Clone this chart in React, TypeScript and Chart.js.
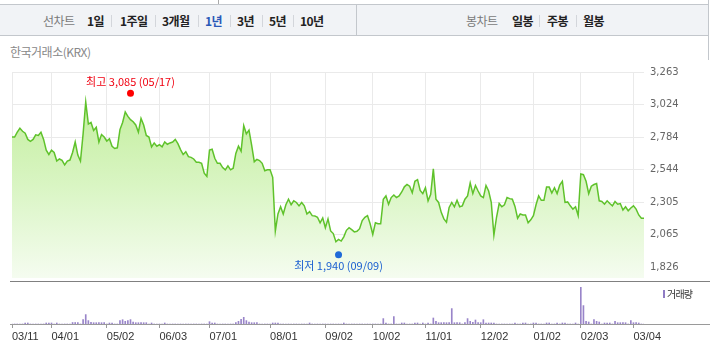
import React, { useEffect, useRef } from 'react';
import { Chart, registerables } from 'chart.js';

Chart.register(...registerables);

// ---- data ----
const closes = [
  2784, 2784, 2820, 2849, 2827, 2813, 2767, 2753, 2767, 2801,
  2796, 2820, 2767, 2688, 2656, 2688, 2671, 2608, 2623, 2613,
  2579, 2608, 2615, 2671, 2748, 2652, 2608, 2808, 3042, 2880,
  2892, 2832, 2856, 2748, 2803, 2784, 2755, 2772, 2717, 2700,
  2705, 2839, 2892, 2969, 2936, 2912, 2897, 2873, 2820, 2921,
  2873, 2796, 2784, 2712, 2741, 2717, 2729, 2712, 2748, 2731,
  2741, 2748, 2767, 2736, 2692, 2656, 2676, 2640, 2635, 2623,
  2599, 2599, 2591, 2519, 2495, 2688, 2695, 2628, 2591, 2591,
  2560, 2543, 2572, 2543, 2555, 2664, 2717, 2680, 2868, 2808,
  2835, 2724, 2603, 2620, 2611, 2591, 2536, 2543, 2543, 2488,
  2093, 2218, 2271, 2218, 2286, 2327, 2286, 2315, 2303, 2278,
  2303, 2278, 2218, 2235, 2206, 2204, 2194, 2153, 2189, 2117,
  2182, 2093, 2074, 2014, 2031, 2019, 2050, 2098, 2117, 2103,
  2086, 2091, 2110, 2170, 2194, 2206, 2146, 2067, 2153, 2146,
  2146, 2327, 2351, 2290, 2339, 2358, 2339, 2351, 2380, 2418,
  2435, 2423, 2375, 2459, 2471, 2392, 2368, 2411, 2315, 2363,
  2550, 2327, 2303, 2230, 2182, 2158, 2266, 2303, 2271, 2319,
  2271, 2278, 2327, 2351, 2447, 2368, 2428, 2387, 2351, 2339,
  2428, 2387, 2303, 2062, 2194, 2295, 2271, 2286, 2339, 2331,
  2327, 2274, 2187, 2218, 2211, 2211, 2153, 2175, 2206, 2286,
  2351, 2319, 2319, 2416, 2416, 2372, 2411, 2368, 2430, 2459,
  2303, 2307, 2278, 2254, 2271, 2206, 2512, 2507, 2459, 2368,
  2423, 2435, 2442, 2315, 2310, 2290, 2315, 2295, 2278, 2310,
  2290, 2295, 2247, 2271, 2242, 2262, 2278, 2254, 2211, 2187,
  2187,
];

const volumes = [
  0, 0, 0, 0, 0, 10, 10, 0, 0, 0, 0, 0, 0, 10, 10, 10, 0, 10, 0, 0,
  0, 0, 0, 15, 15, 15, 0, 43, 94, 34, 17, 13, 13, 13, 13, 13, 0, 10, 10, 0,
  0, 33, 43, 27, 34, 44, 20, 13, 13, 13, 13, 13, 0, 10, 0, 0, 0, 0, 10, 0,
  0, 0, 0, 0, 0, 0, 0, 0, 0, 0, 0, 0, 0, 0, 0, 23, 10, 10, 0, 0,
  0, 0, 0, 0, 0, 13, 27, 47, 67, 34, 20, 13, 13, 13, 0, 0, 0, 0, 0, 10,
  10, 10, 0, 0, 0, 0, 0, 0, 0, 0, 0, 0, 0, 10, 0, 0, 0, 0, 0, 0,
  0, 0, 0, 0, 0, 0, 10, 0, 0, 0, 0, 0, 0, 0, 0, 0, 0, 0, 0, 0,
  0, 54, 10, 0, 0, 74, 0, 0, 10, 10, 0, 0, 0, 10, 10, 0, 10, 0, 10, 0,
  60, 27, 13, 13, 13, 13, 13, 154, 13, 13, 13, 0, 13, 54, 27, 17, 40, 13, 13, 43,
  10, 10, 10, 10, 0, 0, 0, 0, 0, 0, 0, 10, 0, 0, 10, 10, 0, 0, 10, 10,
  0, 0, 0, 10, 10, 0, 0, 10, 0, 10, 10, 0, 0, 0, 10, 0, 367, 184, 27, 20,
  0, 43, 27, 20, 0, 10, 10, 10, 0, 27, 13, 13, 13, 13, 0, 33, 13, 13, 10, 0,
  0,
];

const xTickIdx = [0, 15, 36, 56, 75, 98, 119, 137, 157, 178, 198, 216, 236];
const xTickLabels = ['03/11', '04/01', '05/02', '06/03', '07/01', '08/01', '09/02', '10/02', '11/01', '12/02', '01/02', '02/03', '03/04'];
const yTickVals = [1826, 2065, 2305, 2544, 2784, 3024, 3263];
const yRange = [1747, 3263];
const volRange = [0, 420];

const highIdx = 45;
const highValue = 3085;
const highDate = '05/17';
const lowIdx = 124;
const lowValue = 1940;
const lowDate = '09/09';

const periodTabs = ['1일', '1주일', '3개월', '1년', '3년', '5년', '10년'];
const activePeriod = '1년';
const candleTabs = ['일봉', '주봉', '월봉'];

// ---- layout ----
const periodLeft = [87, 120, 162, 205, 237, 269, 300];
const periodSep = [111, 155, 198, 230, 262, 293];
const candleLeft = [512, 547, 583];
const candleSep = [539, 576];

const fmt = (v: number) => v.toLocaleString('en-US');

const markerPlugin = {
  id: 'hiLoMarkers',
  afterDatasetsDraw(chart: any) {
    const { ctx, scales } = chart;
    const x = scales.x;
    const y = scales.y;
    ctx.save();
    ctx.font = '11px "Noto Sans CJK KR", sans-serif';
    ctx.textAlign = 'center';
    ctx.textBaseline = 'middle';
    const hx = x.getPixelForValue(highIdx);
    const hy = y.getPixelForValue(highValue) - 3;
    ctx.fillStyle = '#ff0000';
    ctx.beginPath();
    ctx.arc(hx, hy, 3.5, 0, Math.PI * 2);
    ctx.fill();
    ctx.fillStyle = '#f00010';
    ctx.fillText(`최고 ${fmt(highValue)} (${highDate})`, hx, hy - 11);
    const lx = x.getPixelForValue(lowIdx);
    const ly = y.getPixelForValue(lowValue) + 3;
    ctx.fillStyle = '#1f6ad8';
    ctx.beginPath();
    ctx.arc(lx, ly, 3.5, 0, Math.PI * 2);
    ctx.fill();
    ctx.fillStyle = '#1a5fd0';
    ctx.fillText(`최저 ${fmt(lowValue)} (${lowDate})`, lx, ly + 11);
    ctx.restore();
  },
};

export default function App() {
  const priceRef = useRef<HTMLCanvasElement>(null);
  const volRef = useRef<HTMLCanvasElement>(null);

  useEffect(() => {
    const gridColor = '#eaeaea';
    const price = new Chart(priceRef.current as HTMLCanvasElement, {
      type: 'line',
      data: {
        datasets: [
          {
            data: closes.map((v, i) => ({ x: i, y: v })),
            borderColor: '#5fc22b',
            borderWidth: 1.5,
            pointRadius: 0,
            tension: 0,
            fill: 'start',
            backgroundColor: (c: any) => {
              const a = c.chart.chartArea;
              if (!a) return 'rgba(190,236,150,0.6)';
              const g = c.chart.ctx.createLinearGradient(0, a.top, 0, a.bottom);
              g.addColorStop(0, '#bdec93');
              g.addColorStop(0.55, '#d9f5c3');
              g.addColorStop(1, '#f5fcf0');
              return g;
            },
          },
        ],
      },
      options: {
        animation: false,
        responsive: false,
        layout: { padding: { left: 12, top: 12, right: 0, bottom: 8 } },
        plugins: { legend: { display: false }, tooltip: { enabled: false } },
        scales: {
          x: {
            type: 'linear',
            min: 0,
            max: closes.length - 1,
            afterBuildTicks: (s: any) => {
              s.ticks = xTickIdx.map((v) => ({ value: v }));
            },
            ticks: { display: false },
            grid: { color: gridColor, drawTicks: false },
            border: { display: false },
            afterFit: (s: any) => {
              s.height = 0;
            },
          },
          y: {
            position: 'right',
            min: yRange[0],
            max: yRange[1],
            afterBuildTicks: (s: any) => {
              s.ticks = yTickVals.map((v) => ({ value: v }));
            },
            ticks: {
              padding: 6,
              color: '#666',
              font: { family: '"DejaVu Sans", sans-serif', size: 10 },
              callback: (v: any) => fmt(Number(v)),
            },
            grid: { color: gridColor, drawTicks: false },
            border: { display: false },
            afterFit: (s: any) => {
              s.width = 66;
            },
          },
        },
      } as any,
      plugins: [markerPlugin],
    });

    const vol = new Chart(volRef.current as HTMLCanvasElement, {
      type: 'bar',
      data: {
        datasets: [
          {
            data: volumes.map((v, i) => ({ x: i, y: v })),
            backgroundColor: '#9985c9',
            borderWidth: 0,
            barThickness: 1,
          },
        ],
      },
      options: {
        animation: false,
        responsive: false,
        layout: { padding: { left: 12, top: 2, right: 66, bottom: 8 } },
        plugins: { legend: { display: false }, tooltip: { enabled: false } },
        scales: {
          x: {
            type: 'linear',
            offset: false,
            min: 0,
            max: closes.length - 1,
            afterBuildTicks: (s: any) => {
              s.ticks = xTickIdx.map((v) => ({ value: v }));
            },
            ticks: {
              autoSkip: false,
              maxRotation: 0,
              align: 'start',
              padding: 2,
              color: '#333',
              font: { family: '"Liberation Sans", sans-serif', size: 11 },
              callback: (v: any) => {
                const k = xTickIdx.indexOf(Number(v));
                return k >= 0 ? xTickLabels[k] : '';
              },
            },
            grid: { offset: false, drawOnChartArea: false, drawTicks: true, tickLength: 4, color: '#999' },
            border: { display: false },
            afterFit: (s: any) => {
              s.height = 20;
            },
          },
          y: { display: false, min: volRange[0], max: volRange[1] },
        },
      } as any,
    });

    return () => {
      price.destroy();
      vol.destroy();
    };
  }, []);

  const kr = '"Noto Sans CJK KR", sans-serif';
  const tabText = (t: string, left: number, color: string, weight: number, key: string) => (
    <span
      key={key}
      style={{
        position: 'absolute',
        left,
        top: 7,
        lineHeight: '18px',
        fontSize: 12,
        fontWeight: weight,
        color,
        letterSpacing: '-0.6px',
        whiteSpace: 'nowrap',
      }}
    >
      {t}
    </span>
  );
  const sep = (left: number, key: string) => (
    <div key={key} style={{ position: 'absolute', left, top: 10, width: 1, height: 12, background: '#d3d6db' }} />
  );

  return (
    <div
      style={{
        position: 'absolute',
        left: 0,
        top: 0,
        width: 710,
        height: 352,
        background: '#fff',
        fontFamily: kr,
        overflow: 'hidden',
      }}
    >
      <div style={{ position: 'absolute', left: 218, top: 0, width: 1, height: 4, background: '#aaa' }} />
      <div
        style={{
          position: 'absolute',
          left: 0,
          top: 4,
          width: 708,
          height: 30,
          background: '#f1f3f6',
          borderTop: '1px solid #c3c7cc',
          borderBottom: '1px solid #c3c7cc',
        }}
      >
        {tabText('선차트', 43, '#7a7a7a', 400, 'lbl1')}
        {periodTabs.map((t, i) =>
          tabText(t, periodLeft[i], t === activePeriod ? '#2a58b8' : '#222', 700, 'p' + i)
        )}
        {periodSep.map((l, i) => sep(l, 'ps' + i))}
        <div style={{ position: 'absolute', left: 356, top: 0, width: 1, height: 30, background: '#c3c7cc' }} />
        {tabText('봉차트', 466, '#7a7a7a', 400, 'lbl2')}
        {candleTabs.map((t, i) => tabText(t, candleLeft[i], '#222', 700, 'c' + i))}
        {candleSep.map((l, i) => sep(l, 'cs' + i))}
      </div>
      <div style={{ position: 'absolute', left: 708, top: 0, width: 1, height: 60, background: '#c3c7cc' }} />
      <div
        style={{
          position: 'absolute',
          left: 10,
          top: 43,
          fontSize: 12,
          lineHeight: '18px',
          color: '#888',
          letterSpacing: '-0.5px',
          whiteSpace: 'nowrap',
        }}
      >
        한국거래소(KRX)
      </div>
      <canvas ref={priceRef} width={710} height={230} style={{ position: 'absolute', left: 0, top: 60, display: 'block' }} />
      <canvas ref={volRef} width={710} height={72} style={{ position: 'absolute', left: 0, top: 280, display: 'block' }} />
      <div style={{ position: 'absolute', left: 10, top: 281, width: 700, height: 1, background: '#808080' }} />
      <div style={{ position: 'absolute', left: 10, top: 324, width: 700, height: 1, background: '#9a9a9a' }} />
      <div style={{ position: 'absolute', left: 663, top: 290, width: 2, height: 8, background: '#8f7cc4' }} />
      <div
        style={{
          position: 'absolute',
          left: 667,
          top: 287,
          fontSize: 10,
          lineHeight: '14px',
          color: '#333',
          letterSpacing: '-0.8px',
          whiteSpace: 'nowrap',
        }}
      >
        거래량
      </div>
    </div>
  );
}
